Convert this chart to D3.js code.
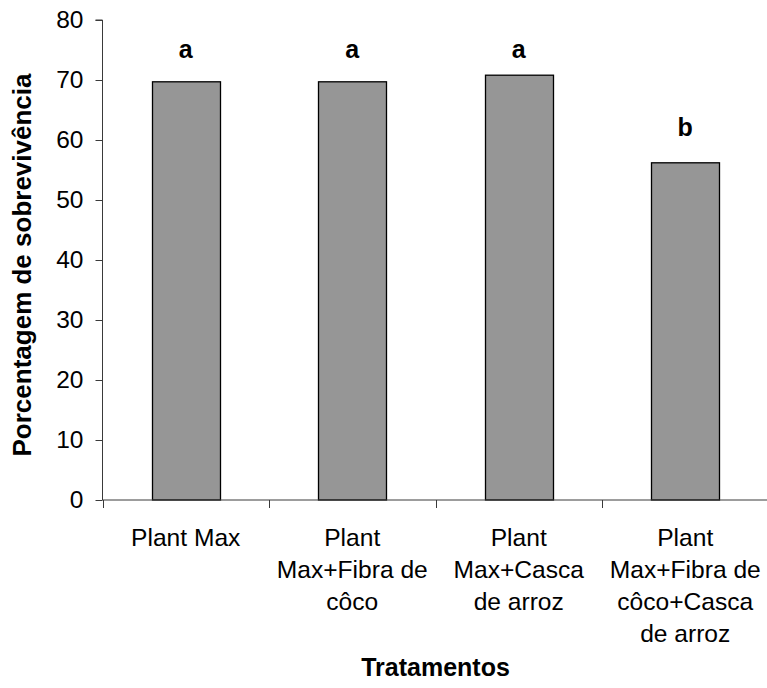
<!DOCTYPE html>
<html>
<head>
<meta charset="utf-8">
<script src="https://cdn.jsdelivr.net/npm/d3@7"></script>
<style>
  html, body { margin: 0; padding: 0; background: #fff; }
  svg { display: block; font-family: "Liberation Sans", Arial, sans-serif; }
</style>
</head>
<body>
<svg id="chart" width="767" height="688"></svg>
<script>
// ---- data ----
const categories = [
  ["Plant Max"],
  ["Plant", "Max+Fibra de", "côco"],
  ["Plant", "Max+Casca", "de arroz"],
  ["Plant", "Max+Fibra de", "côco+Casca", "de arroz"]
];
const survival = [69.7, 69.7, 70.8, 56.2];
const groupLetters = ["a", "a", "a", "b"];
const letterLevels = [73.7, 73.7, 73.7, 60.7];
const yTicks = [0, 10, 20, 30, 40, 50, 60, 70, 80];
const yTitle = "Porcentagem de sobrevivência";
const xTitle = "Tratamentos";

// ---- layout ----
(function () {
const svg = d3.select("#chart");
const mLeft = 102.5, mRight = 768.5, mTop = 20, mBottom = 500;

const x = d3.scaleBand()
  .domain(d3.range(categories.length))
  .range([mLeft, mRight])
  .paddingInner(0.59)
  .paddingOuter(0.295);
const y = d3.scaleLinear().domain([0, 80]).range([mBottom, mTop]);

const axisColor = "#3a3a3a";

// bars
svg.append("g").selectAll("rect")
  .data(survival)
  .join("rect")
  .attr("x", (d, i) => Math.round(x(i)) + 0.5)
  .attr("y", d => y(d))
  .attr("width", Math.round(x.bandwidth()))
  .attr("height", d => y(0) - y(d))
  .attr("fill", "#969696")
  .attr("stroke", "#000")
  .attr("stroke-width", 1.3);

// y axis
const yAxis = svg.append("g").attr("transform", `translate(${mLeft},0)`)
  .call(d3.axisLeft(y).tickValues(yTicks).tickSize(7).tickPadding(12).tickFormat(d3.format("d")));
yAxis.select(".domain").attr("stroke", axisColor).attr("d", `M-7,${y(80)}H0V${y(0)}`);
yAxis.selectAll(".tick line").attr("stroke", axisColor);
yAxis.selectAll(".tick text").attr("font-size", 24.5).attr("fill", "#000")
  .attr("font-family", "Liberation Sans, Arial, sans-serif");

// x axis
const xEdges = d3.scaleLinear().domain([0, categories.length]).range([mLeft, mRight]);
const xg = svg.append("g").attr("transform", `translate(0,${mBottom})`);
xg.append("line").attr("x1", mLeft).attr("x2", mRight).attr("y1", 0).attr("y2", 0)
  .attr("stroke", axisColor);
xg.selectAll("line.tk")
  .data(d3.range(categories.length))
  .join("line")
  .attr("class", "tk")
  .attr("x1", d => Math.round(xEdges(d)) + 0.5)
  .attr("x2", d => Math.round(xEdges(d)) + 0.5)
  .attr("y1", 0).attr("y2", 8)
  .attr("stroke", axisColor);

// category labels
svg.append("g").selectAll("text")
  .data(categories)
  .join("text")
  .attr("x", (d, i) => x(i) + x.bandwidth() / 2)
  .attr("y", 546)
  .attr("text-anchor", "middle")
  .attr("font-size", 24.6)
  .attr("fill", "#000")
  .each(function (lines) {
    const cx = d3.select(this).attr("x");
    d3.select(this).selectAll("tspan")
      .data(lines)
      .join("tspan")
      .attr("x", cx)
      .attr("dy", (l, j) => j === 0 ? 0 : 32)
      .text(l => l);
  });

// group letters
svg.append("g").selectAll("text")
  .data(groupLetters)
  .join("text")
  .attr("x", (d, i) => x(i) + x.bandwidth() / 2)
  .attr("y", (d, i) => y(letterLevels[i]))
  .attr("text-anchor", "middle")
  .attr("font-size", 25)
  .attr("font-weight", "bold")
  .text(d => d);

// axis titles
svg.append("text")
  .attr("transform", `translate(31,${(72 + 458) / 2}) rotate(-90)`)
  .attr("text-anchor", "middle")
  .attr("font-size", 26)
  .attr("font-weight", "bold")
  .text(yTitle);

svg.append("text")
  .attr("x", (mLeft + mRight) / 2)
  .attr("y", 676)
  .attr("text-anchor", "middle")
  .attr("font-size", 25)
  .attr("font-weight", "bold")
  .text(xTitle);
})();
</script>
</body>
</html>
